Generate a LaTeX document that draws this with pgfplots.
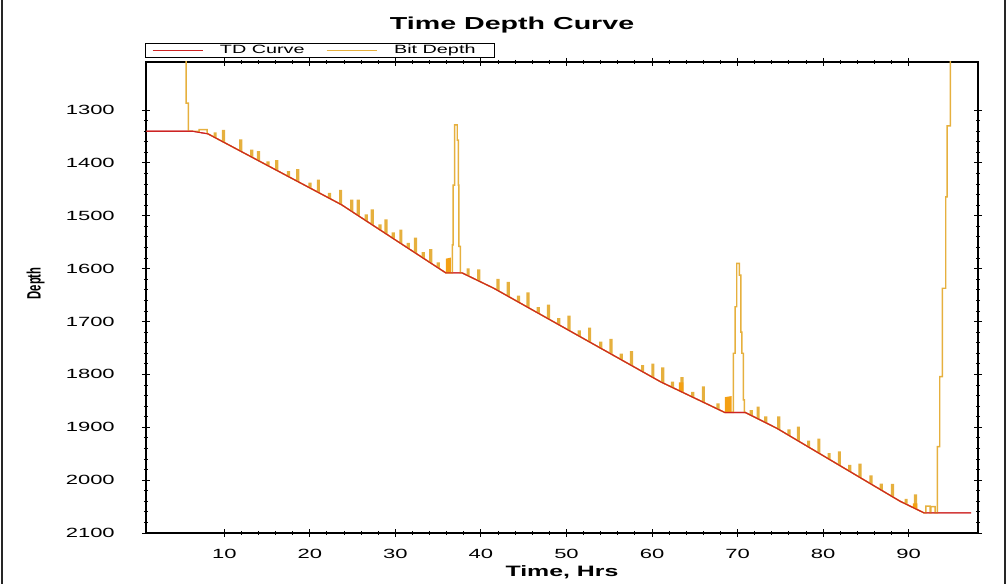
\documentclass[border=0pt]{standalone}
\usepackage{pgfplots}
\pgfplotsset{compat=1.18}
\usepackage{graphicx}
\usepackage{fontspec}
\setmainfont{Liberation Sans}[FakeStretch=1.65]

\definecolor{tdred}{RGB}{205,35,35}
\definecolor{bitgold}{RGB}{230,176,62}
\definecolor{bitdark}{RGB}{244,160,20}

\begin{document}
\begin{tikzpicture}
\path[use as bounding box] (0,0) rectangle (756pt,438pt);
\draw[line width=1.2pt, black!85] (1.5pt,0) -- (1.5pt,438pt);
\draw[line width=1.2pt, black!85] (753.75pt,0) -- (753.75pt,438pt);

\begin{axis}[
    at={(109.5pt,38.25pt)}, anchor=south west,
    scale only axis,
    width=624pt, height=353.25pt,
    y dir=reverse,
    xmin=0.85, xmax=98.1,
    ymin=1209, ymax=2100,
    xtick={10,20,...,90},
    ytick={1300,1400,...,2100},
    minor tick num=4,
    tick align=center,
    major tick length=6pt,
    minor tick length=3pt,
    every tick/.style={black, line width=0.7pt},
    axis line style={black, line width=0.8pt},
    /pgf/number format/assume math mode=true,
    /pgf/number format/1000 sep={},
    ticklabel style={font=\fontsize{10}{12}\selectfont},
    yticklabel style={anchor=east, inner sep=0pt, xshift=-20.25pt},
    xticklabel style={anchor=north, inner sep=0pt, yshift=-9pt},
    title={Time Depth Curve},
    title style={at={(0.44,1.053)}, anchor=base, inner sep=0pt,
        font=\bfseries\fontsize{13}{15}\selectfont},
    xlabel={Time, Hrs},
    xlabel style={at={(axis description cs:0.5,-0.0921)}, anchor=base, inner sep=0pt,
        font=\bfseries\fontsize{11.3}{13}\selectfont},
    ylabel={\resizebox*{24pt}{13.5pt}{\bfseries Depth}},
    ylabel style={at={(axis description cs:-0.1326,0.53)}, anchor=center, inner sep=0pt},
    legend columns=2,
    legend image code/.code={
        \draw[#1] (0pt,0pt) -- (37.5pt,0pt);},
    legend style={at={(-0.0012,1.0085)}, anchor=south west,
        draw=black, line width=0.8pt,
        inner xsep=5pt, inner ysep=0.6pt,
        column sep=0pt,
        nodes={inner xsep=0pt, inner ysep=0.5pt},
        font=\fontsize{9}{10}\selectfont},
]

\addplot[tdred, line width=0.8pt, mark=none] coordinates {
(0.9,1340)(6.3,1340)(8.1,1345)(23.7,1479)(35.9,1608)(37.8,1608)(41.5,1637)
(61,1814)(68.5,1872)(70.9,1872)(74.6,1902)(89,2040)(91.8,2062)(97.3,2062)
};
\addlegendentry{\hspace*{12.5pt}TD Curve\hspace*{16pt}}

\addplot[bitgold, line width=1.1pt, mark=none] coordinates {
(5.53,1150)(5.53,1287)(5.8,1287)(5.8,1340)(7.05,1340)(7.05,1337)(8.0,1337)(8.0,1344)(8.1,1345)
(8.83,1351.3)(8.83,1343.3)(9.03,1343.3)(9.03,1353.0)
(9.81,1359.7)(9.81,1338.7)(10.01,1338.7)(10.01,1361.4)
(11.83,1377.0)(11.83,1357.0)(12.03,1357.0)(12.03,1378.8)
(13.12,1388.1)(13.12,1376.1)(13.32,1376.1)(13.32,1389.8)
(13.9,1394.8)(13.9,1378.8)(14.1,1378.8)(14.1,1396.5)
(15.0,1404.3)(15.0,1398.3)(15.2,1398.3)(15.2,1406.0)
(16.03,1413.1)(16.03,1396.1)(16.23,1396.1)(16.23,1414.8)
(17.4,1424.9)(17.4,1416.9)(17.6,1416.9)(17.6,1426.6)
(18.48,1434.2)(18.48,1413.2)(18.68,1413.2)(18.68,1435.9)
(19.92,1446.5)(19.92,1438.5)(20.12,1438.5)(20.12,1448.3)
(20.9,1455.0)(20.9,1433.0)(21.1,1433.0)(21.1,1456.7)
(22.2,1466.1)(22.2,1458.1)(22.4,1458.1)(22.4,1467.8)
(23.5,1477.3)(23.5,1452.3)(23.7,1452.3)(23.7,1479.0)
(24.8,1490.6)(24.8,1470.6)(25.0,1470.6)(25.0,1492.7)
(25.56,1498.7)(25.56,1470.7)(25.76,1470.7)(25.76,1500.8)
(26.5,1508.6)(26.5,1498.6)(26.7,1498.6)(26.7,1510.7)
(27.2,1516.0)(27.2,1489.0)(27.4,1489.0)(27.4,1518.1)
(28.1,1525.5)(28.1,1517.5)(28.3,1517.5)(28.3,1527.6)
(28.8,1532.9)(28.8,1507.9)(29.0,1507.9)(29.0,1535.0)
(29.65,1541.9)(29.65,1532.9)(29.85,1532.9)(29.85,1544.0)
(30.54,1551.3)(30.54,1527.3)(30.74,1527.3)(30.74,1553.4)
(31.4,1560.4)(31.4,1552.4)(31.6,1552.4)(31.6,1562.5)
(32.25,1569.4)(32.25,1542.4)(32.45,1542.4)(32.45,1571.5)
(33.15,1578.9)(33.15,1569.9)(33.35,1569.9)(33.35,1581.0)
(34.04,1588.3)(34.04,1564.3)(34.24,1564.3)(34.24,1590.4)
(34.9,1597.4)(34.9,1589.4)(35.1,1589.4)(35.1,1599.5)
(35.9,1608)
(36.65,1608)(36.65,1555)(36.76,1555)(36.76,1442)(36.92,1442)(36.92,1328)(37.23,1328)(37.23,1357)
(37.35,1357)(37.35,1442)(37.42,1442)(37.42,1558)(37.6,1558)(37.6,1608)(37.8,1608)
(38.4,1612.7)(38.4,1600.7)(38.6,1600.7)(38.6,1614.3)
(39.65,1622.5)(39.65,1602.5)(39.85,1602.5)(39.85,1624.1)
(41.5,1637)
(41.9,1640.6)(41.9,1620.6)(42.1,1620.6)(42.1,1642.4)
(43.1,1651.5)(43.1,1626.5)(43.3,1626.5)(43.3,1653.3)
(44.3,1662.4)(44.3,1652.4)(44.5,1652.4)(44.5,1664.2)
(45.4,1672.4)(45.4,1646.4)(45.6,1646.4)(45.6,1674.2)
(46.6,1683.3)(46.6,1674.3)(46.8,1674.3)(46.8,1685.1)
(47.8,1694.2)(47.8,1669.2)(48.0,1669.2)(48.0,1696.0)
(49.0,1705.1)(49.0,1695.1)(49.2,1695.1)(49.2,1706.9)
(50.2,1716.0)(50.2,1690.0)(50.4,1690.0)(50.4,1717.8)
(51.4,1726.9)(51.4,1717.9)(51.6,1717.9)(51.6,1728.7)
(52.6,1737.8)(52.6,1712.8)(52.8,1712.8)(52.8,1739.6)
(53.9,1749.6)(53.9,1739.6)(54.1,1739.6)(54.1,1751.4)
(55.1,1760.4)(55.1,1734.4)(55.3,1734.4)(55.3,1762.3)
(56.3,1771.3)(56.3,1762.3)(56.5,1762.3)(56.5,1773.2)
(57.5,1782.2)(57.5,1757.2)(57.7,1757.2)(57.7,1784.0)
(58.8,1794.0)(58.8,1784.0)(59.0,1784.0)(59.0,1795.8)
(60.0,1804.9)(60.0,1780.9)(60.2,1780.9)(60.2,1806.7)
(61.0,1814)
(61.15,1815.2)(61.15,1788.2)(61.35,1788.2)(61.35,1816.7)
(62.3,1824.1)(62.3,1815.1)(62.5,1815.1)(62.5,1825.6)
(63.4,1832.6)(63.4,1806.6)(63.6,1806.6)(63.6,1834.1)
(64.65,1842.2)(64.65,1834.2)(64.85,1834.2)(64.85,1843.8)
(65.9,1851.9)(65.9,1823.9)(66.1,1823.9)(66.1,1853.4)
(67.6,1865.0)(67.6,1856.0)(67.8,1856.0)(67.8,1866.6)
(68.5,1872)
(69.51,1872)(69.51,1760)(69.7,1760)(69.7,1672)(69.9,1672)(69.9,1590)(70.2,1590)(70.2,1612)
(70.37,1612)(70.37,1720)(70.5,1720)(70.5,1760)(70.67,1760)(70.67,1848)(70.8,1848)(70.8,1872)(70.9,1872)
(71.5,1876.9)(71.5,1868.9)(71.7,1868.9)(71.7,1878.5)
(72.3,1883.4)(72.3,1862.4)(72.5,1862.4)(72.5,1885.0)
(73.2,1890.6)(73.2,1880.6)(73.4,1880.6)(73.4,1892.3)
(74.6,1902)
(74.7,1903.0)(74.7,1881.0)(74.9,1881.0)(74.9,1904.9)
(75.9,1914.5)(75.9,1905.5)(76.1,1905.5)(76.1,1916.4)
(77.0,1925.0)(77.0,1900.0)(77.2,1900.0)(77.2,1926.9)
(78.2,1936.5)(78.2,1926.5)(78.4,1926.5)(78.4,1938.4)
(79.4,1948.0)(79.4,1923.0)(79.6,1923.0)(79.6,1949.9)
(80.6,1959.5)(80.6,1950.5)(80.8,1950.5)(80.8,1961.4)
(81.8,1971.0)(81.8,1947.0)(82.0,1947.0)(82.0,1972.9)
(83.0,1982.5)(83.0,1972.5)(83.2,1972.5)(83.2,1984.4)
(84.2,1994.0)(84.2,1970.0)(84.4,1970.0)(84.4,1995.9)
(85.5,2006.5)(85.5,1992.5)(85.7,1992.5)(85.7,2008.4)
(86.7,2018.0)(86.7,2008.0)(86.9,2008.0)(86.9,2019.9)
(88.0,2030.5)(88.0,2008.5)(88.2,2008.5)(88.2,2032.3)
(89.0,2040)
(89.6,2044.7)(89.6,2036.7)(89.8,2036.7)(89.8,2046.3)
(90.7,2053.4)(90.7,2028.4)(90.9,2028.4)(90.9,2054.9)
(91.8,2062)
(92.0,2062)(92.0,2049)(92.5,2049)(92.5,2062)(92.6,2062)(92.6,2050)(93.1,2050)(93.1,2062)
(93.36,2062)(93.36,1936.5)(93.63,1936.5)(93.63,1804)(93.94,1804)(93.94,1637)(94.33,1637)
(94.33,1464)(94.48,1464)(94.48,1330)(94.88,1330)(94.88,1150)
};
\addlegendentry{\hspace*{12.5pt}Bit Depth\hspace*{9pt}}

% dense connection blocks
\addplot[fill=bitdark, draw=none, forget plot] coordinates {(35.9,1608)(35.9,1581)(36.5,1579)(36.5,1608)};
\addplot[fill=bitdark, draw=none, forget plot] coordinates {(68.5,1872)(68.5,1843)(69.3,1841)(69.3,1872)};
\addplot[fill=bitdark, draw=none, forget plot] coordinates {(63.15,1831)(63.15,1815)(63.65,1815)(63.65,1835)};
\addplot[fill=bitdark, draw=none, forget plot] coordinates {(90.5,2052)(90.5,2044)(91.0,2044)(91.0,2056)};

% TD on top
\addplot[tdred, line width=0.8pt, mark=none, forget plot] coordinates {
(0.9,1340)(6.3,1340)(8.1,1345)(23.7,1479)(35.9,1608)(37.8,1608)(41.5,1637)
(61,1814)(68.5,1872)(70.9,1872)(74.6,1902)(89,2040)(91.8,2062)(97.3,2062)
};
\end{axis}
\end{tikzpicture}
\end{document}
